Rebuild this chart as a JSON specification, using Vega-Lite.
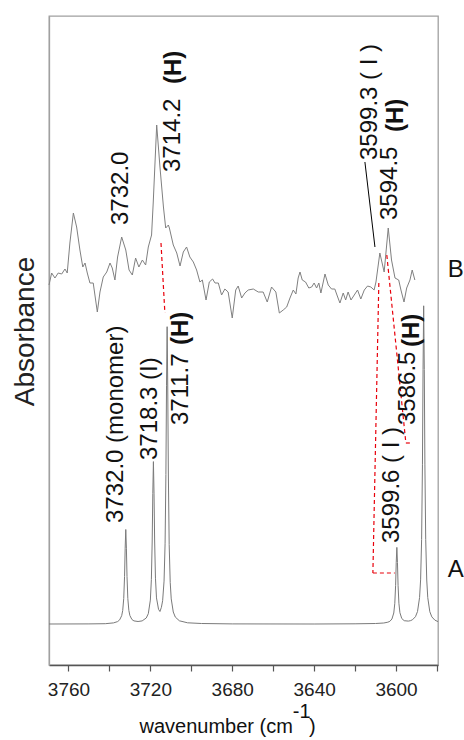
{
  "$schema": "https://vega.github.io/schema/vega-lite/v6.json",
  "width": 389,
  "height": 649,
  "autosize": {"type": "none"},
  "padding": {"left": 49, "top": 16, "right": 26, "bottom": 75},
  "config": {
    "view": {"stroke": "#a0a0a0", "strokeWidth": 1.3},
    "font": "Liberation Sans"
  },
  "datasets": {
    "specA": [
      {"wn": 3769.5, "ab": 41}, {"wn": 3750, "ab": 41.1}, {"wn": 3742, "ab": 41.3}, {"wn": 3738, "ab": 42.1},
      {"wn": 3736, "ab": 43.4}, {"wn": 3735, "ab": 45.1}, {"wn": 3734, "ab": 49.3}, {"wn": 3733.5, "ab": 54.5},
      {"wn": 3733, "ab": 66.4}, {"wn": 3732.6, "ab": 88.5}, {"wn": 3732.3, "ab": 116.7}, {"wn": 3732.0, "ab": 135.5},
      {"wn": 3731.7, "ab": 116.8}, {"wn": 3731.4, "ab": 88.6}, {"wn": 3731, "ab": 66.5}, {"wn": 3730.5, "ab": 54.6},
      {"wn": 3730, "ab": 49.5}, {"wn": 3729, "ab": 45.5}, {"wn": 3728, "ab": 44.1}, {"wn": 3726, "ab": 43.5},
      {"wn": 3724, "ab": 44.1}, {"wn": 3722, "ab": 47.0}, {"wn": 3721, "ab": 51.3}, {"wn": 3720, "ab": 64.9},
      {"wn": 3719.5, "ab": 85.4}, {"wn": 3719.1, "ab": 123}, {"wn": 3718.8, "ab": 171.4}, {"wn": 3718.5, "ab": 203.4},
      {"wn": 3718.2, "ab": 171.8}, {"wn": 3717.9, "ab": 124}, {"wn": 3717.5, "ab": 86.8}, {"wn": 3717, "ab": 67.1},
      {"wn": 3716, "ab": 55.7}, {"wn": 3715.3, "ab": 53.5}, {"wn": 3714.6, "ab": 57.7}, {"wn": 3714, "ab": 64.3},
      {"wn": 3713.3, "ab": 83.9}, {"wn": 3712.8, "ab": 121.2}, {"wn": 3712.4, "ab": 190.5}, {"wn": 3712.1, "ab": 279.2},
      {"wn": 3711.8, "ab": 338.3}, {"wn": 3711.5, "ab": 279}, {"wn": 3711.2, "ab": 190}, {"wn": 3710.8, "ab": 120.4},
      {"wn": 3710.3, "ab": 82.6}, {"wn": 3709.8, "ab": 66.1}, {"wn": 3708.8, "ab": 53}, {"wn": 3707.8, "ab": 47.9},
      {"wn": 3705.8, "ab": 44.2}, {"wn": 3701.8, "ab": 42.2}, {"wn": 3695, "ab": 41.5}, {"wn": 3680, "ab": 41.1},
      {"wn": 3640, "ab": 41}, {"wn": 3620, "ab": 41.2}, {"wn": 3610, "ab": 41.5}, {"wn": 3606, "ab": 42},
      {"wn": 3604, "ab": 42.8}, {"wn": 3603, "ab": 43.7}, {"wn": 3602, "ab": 46}, {"wn": 3601.1, "ab": 52},
      {"wn": 3600.6, "ab": 61.7}, {"wn": 3600.2, "ab": 79.6}, {"wn": 3599.9, "ab": 102.4}, {"wn": 3599.6, "ab": 117.6},
      {"wn": 3599.3, "ab": 102.5}, {"wn": 3599.0, "ab": 79.7}, {"wn": 3598.6, "ab": 61.8}, {"wn": 3598.1, "ab": 52.3},
      {"wn": 3597.2, "ab": 46.5}, {"wn": 3596, "ab": 44.3}, {"wn": 3594, "ab": 43.9}, {"wn": 3593, "ab": 44.3},
      {"wn": 3592, "ab": 45.2}, {"wn": 3590.5, "ab": 48.3}, {"wn": 3589.5, "ab": 53.5}, {"wn": 3588.5, "ab": 67.5},
      {"wn": 3588, "ab": 85.1}, {"wn": 3587.5, "ab": 125.5}, {"wn": 3587.1, "ab": 200.2}, {"wn": 3586.8, "ab": 295.6},
      {"wn": 3586.5, "ab": 359.2}, {"wn": 3586.2, "ab": 295.6}, {"wn": 3585.9, "ab": 200.1}, {"wn": 3585.5, "ab": 125.4},
      {"wn": 3585, "ab": 85}, {"wn": 3584.5, "ab": 67.4}, {"wn": 3583.5, "ab": 53.3}, {"wn": 3582.5, "ab": 48.1},
      {"wn": 3581, "ab": 44.8}, {"wn": 3579.5, "ab": 43.4}
    ],
    "specB": [
      {"wn": 3769.5, "ab": 380}, {"wn": 3768.2, "ab": 392}, {"wn": 3766.6, "ab": 387}, {"wn": 3765.0, "ab": 392},
      {"wn": 3763.3, "ab": 391}, {"wn": 3761.7, "ab": 396}, {"wn": 3760.6, "ab": 392}, {"wn": 3759.3, "ab": 422},
      {"wn": 3757.6, "ab": 452}, {"wn": 3756.0, "ab": 438}, {"wn": 3754.4, "ab": 415}, {"wn": 3753.0, "ab": 398},
      {"wn": 3751.9, "ab": 402}, {"wn": 3750.8, "ab": 392}, {"wn": 3749.5, "ab": 382}, {"wn": 3747.9, "ab": 382},
      {"wn": 3745.9, "ab": 353}, {"wn": 3744.6, "ab": 373}, {"wn": 3743.0, "ab": 388}, {"wn": 3741.3, "ab": 393},
      {"wn": 3739.7, "ab": 402}, {"wn": 3738.6, "ab": 397}, {"wn": 3737.3, "ab": 385}, {"wn": 3736.0, "ab": 408},
      {"wn": 3734.0, "ab": 428}, {"wn": 3732.0, "ab": 415}, {"wn": 3730.4, "ab": 395}, {"wn": 3728.8, "ab": 390},
      {"wn": 3727.2, "ab": 407}, {"wn": 3725.6, "ab": 398}, {"wn": 3723.9, "ab": 405}, {"wn": 3722.3, "ab": 400},
      {"wn": 3721.0, "ab": 418}, {"wn": 3719.4, "ab": 430}, {"wn": 3718.6, "ab": 462}, {"wn": 3716.9, "ab": 540},
      {"wn": 3715.3, "ab": 498}, {"wn": 3713.6, "ab": 458}, {"wn": 3712.5, "ab": 437}, {"wn": 3711.2, "ab": 440},
      {"wn": 3710.7, "ab": 437}, {"wn": 3708.8, "ab": 420}, {"wn": 3707.1, "ab": 412}, {"wn": 3705.5, "ab": 399},
      {"wn": 3703.9, "ab": 413}, {"wn": 3702.3, "ab": 418}, {"wn": 3700.7, "ab": 408}, {"wn": 3699.0, "ab": 403},
      {"wn": 3697.4, "ab": 395}, {"wn": 3695.8, "ab": 383}, {"wn": 3694.6, "ab": 385}, {"wn": 3692.8, "ab": 365},
      {"wn": 3691.2, "ab": 383}, {"wn": 3689.6, "ab": 386}, {"wn": 3688.4, "ab": 382}, {"wn": 3686.8, "ab": 382},
      {"wn": 3685.2, "ab": 370}, {"wn": 3683.6, "ab": 376}, {"wn": 3682.0, "ab": 373}, {"wn": 3680.0, "ab": 347},
      {"wn": 3678.3, "ab": 375}, {"wn": 3677.1, "ab": 379}, {"wn": 3675.4, "ab": 367}, {"wn": 3673.8, "ab": 372},
      {"wn": 3672.2, "ab": 375}, {"wn": 3669.7, "ab": 376}, {"wn": 3667.3, "ab": 373}, {"wn": 3664.9, "ab": 373},
      {"wn": 3662.9, "ab": 363}, {"wn": 3660.8, "ab": 378}, {"wn": 3658.7, "ab": 373}, {"wn": 3657.0, "ab": 352},
      {"wn": 3655.1, "ab": 355}, {"wn": 3653.4, "ab": 358}, {"wn": 3651.8, "ab": 367}, {"wn": 3650.2, "ab": 375},
      {"wn": 3648.9, "ab": 371}, {"wn": 3647.8, "ab": 387}, {"wn": 3646.9, "ab": 393}, {"wn": 3645.8, "ab": 385},
      {"wn": 3644.2, "ab": 383}, {"wn": 3642.6, "ab": 377}, {"wn": 3641.2, "ab": 378}, {"wn": 3640.0, "ab": 382},
      {"wn": 3638.8, "ab": 377}, {"wn": 3637.7, "ab": 382}, {"wn": 3636.7, "ab": 372}, {"wn": 3634.7, "ab": 391},
      {"wn": 3633.1, "ab": 380}, {"wn": 3631.5, "ab": 376}, {"wn": 3629.9, "ab": 376}, {"wn": 3628.5, "ab": 368},
      {"wn": 3627.4, "ab": 362}, {"wn": 3625.8, "ab": 372}, {"wn": 3624.6, "ab": 365}, {"wn": 3623.4, "ab": 373},
      {"wn": 3622.0, "ab": 365}, {"wn": 3620.4, "ab": 370}, {"wn": 3618.8, "ab": 375}, {"wn": 3617.2, "ab": 366},
      {"wn": 3615.5, "ab": 375}, {"wn": 3613.9, "ab": 379}, {"wn": 3612.3, "ab": 378}, {"wn": 3610.7, "ab": 375},
      {"wn": 3609.8, "ab": 383}, {"wn": 3607.9, "ab": 412}, {"wn": 3605.8, "ab": 393}, {"wn": 3603.8, "ab": 437},
      {"wn": 3602.2, "ab": 405}, {"wn": 3600.5, "ab": 387}, {"wn": 3598.7, "ab": 385}, {"wn": 3597.6, "ab": 375},
      {"wn": 3596.1, "ab": 363}, {"wn": 3594.8, "ab": 377}, {"wn": 3593.2, "ab": 385}, {"wn": 3592.1, "ab": 395},
      {"wn": 3590.8, "ab": 385}
    ],
    "redSeg": [
      {"wn": 3714.8, "ab": 422, "wn2": 3712.9, "ab2": 352},
      {"wn": 3608.4, "ab": 382, "wn2": 3611.3, "ab2": 92},
      {"wn": 3611.3, "ab": 92, "wn2": 3600.6, "ab2": 92},
      {"wn": 3604.5, "ab": 410, "wn2": 3595.2, "ab2": 222},
      {"wn": 3595.2, "ab": 222, "wn2": 3591.8, "ab2": 222}
    ],
    "leader": [
      {"wn": 3615.2, "ab": 503, "wn2": 3610.3, "ab2": 418}
    ],
    "labels": [
      {"wn": 3734.3, "ab": 440, "t": "3732.0", "w": "n"},
      {"wn": 3709.0, "ab": 493, "t": "3714.2", "w": "n"},
      {"wn": 3612.8, "ab": 505, "t": "3599.3 ( I )", "w": "n"},
      {"wn": 3603.0, "ab": 445, "t": "3594.5", "w": "n"},
      {"wn": 3736.8, "ab": 142, "t": "3732.0 (monomer)", "w": "n"},
      {"wn": 3720.2, "ab": 205, "t": "3718.3 (I)", "w": "n"},
      {"wn": 3705.0, "ab": 240, "t": "3711.7", "w": "n"},
      {"wn": 3601.8, "ab": 122, "t": "3599.6 ( I )", "w": "n"},
      {"wn": 3594.2, "ab": 240, "t": "3586.5", "w": "n"},
      {"wn": 3708.5, "ab": 581, "t": "(H)", "w": "b"},
      {"wn": 3600.1, "ab": 533, "t": "(H)", "w": "b"},
      {"wn": 3705.0, "ab": 320, "t": "(H)", "w": "b"},
      {"wn": 3592.3, "ab": 318, "t": "(H)", "w": "b"}
    ],
    "sideLabels": [
      {"wn": 3574.7, "ab": 388, "t": "B"},
      {"wn": 3574.7, "ab": 88, "t": "A"}
    ],
    "xTitle": [
      {"wn": 3650.4, "ab": -68, "t": "wavenumber (cm", "part": "main"},
      {"wn": 3650.4, "ab": -53, "t": "-1", "part": "sup"},
      {"wn": 3642.5, "ab": -68, "t": ")", "part": "close"}
    ]
  },
  "layer": [
    {
      "data": {"name": "specA"},
      "mark": {"type": "line", "color": "#7a7a7a", "strokeWidth": 1},
      "encoding": {
        "x": {
          "field": "wn", "type": "quantitative",
          "scale": {"domain": [3579.5, 3769.5], "reverse": true, "nice": false, "zero": false},
          "axis": {
            "values": [3760, 3740, 3720, 3700, 3680, 3660, 3640, 3620, 3600, 3580],
            "format": "d",
            "labelExpr": "datum.value % 40 == 0 ? datum.label : ''",
            "title": null, "grid": false,
            "domainColor": "#555", "domainWidth": 1.5,
            "tickColor": "#555", "tickSize": 6, "tickWidth": 1.2,
            "labelFontSize": 19, "labelColor": "#222", "labelPadding": 9,
            "labelFont": "Liberation Sans"
          }
        },
        "y": {
          "field": "ab", "type": "quantitative",
          "scale": {"domain": [0, 649], "nice": false, "zero": false},
          "axis": {
            "title": "Absorbance", "labels": false, "ticks": false, "grid": false,
            "domainColor": "#a0a0a0", "domainWidth": 1.3,
            "titleFontSize": 28, "titleFontWeight": "normal", "titleColor": "#222",
            "titleFont": "Liberation Sans",
            "titleAngle": 270, "titleX": -24, "titleY": 315, "titleBaseline": "middle", "titleAlign": "center"
          }
        }
      }
    },
    {
      "data": {"name": "specB"},
      "mark": {"type": "line", "color": "#808080", "strokeWidth": 1},
      "encoding": {
        "x": {"field": "wn", "type": "quantitative"},
        "y": {"field": "ab", "type": "quantitative"}
      }
    },
    {
      "data": {"name": "redSeg"},
      "mark": {"type": "rule", "color": "#e8000b", "strokeWidth": 1.2, "strokeDash": [4, 3]},
      "encoding": {
        "x": {"field": "wn", "type": "quantitative"},
        "y": {"field": "ab", "type": "quantitative"},
        "x2": {"field": "wn2"},
        "y2": {"field": "ab2"}
      }
    },
    {
      "data": {"name": "leader"},
      "mark": {"type": "rule", "color": "#000", "strokeWidth": 1},
      "encoding": {
        "x": {"field": "wn", "type": "quantitative"},
        "y": {"field": "ab", "type": "quantitative"},
        "x2": {"field": "wn2"},
        "y2": {"field": "ab2"}
      }
    },
    {
      "data": {"name": "labels"},
      "transform": [{"filter": "datum.w == 'n'"}],
      "mark": {"type": "text", "angle": 270, "align": "left", "baseline": "middle", "fontSize": 24, "font": "Liberation Sans", "color": "#111"},
      "encoding": {
        "x": {"field": "wn", "type": "quantitative"},
        "y": {"field": "ab", "type": "quantitative"},
        "text": {"field": "t"}
      }
    },
    {
      "data": {"name": "labels"},
      "transform": [{"filter": "datum.w == 'b'"}],
      "mark": {"type": "text", "angle": 270, "align": "left", "baseline": "middle", "fontSize": 24, "fontWeight": "bold", "font": "Liberation Sans", "color": "#111"},
      "encoding": {
        "x": {"field": "wn", "type": "quantitative"},
        "y": {"field": "ab", "type": "quantitative"},
        "text": {"field": "t"}
      }
    },
    {
      "data": {"name": "sideLabels"},
      "mark": {"type": "text", "align": "left", "baseline": "alphabetic", "fontSize": 24, "font": "Liberation Sans", "color": "#111"},
      "encoding": {
        "x": {"field": "wn", "type": "quantitative"},
        "y": {"field": "ab", "type": "quantitative"},
        "text": {"field": "t"}
      }
    },
    {
      "data": {"name": "xTitle"},
      "transform": [{"filter": "datum.part == 'main'"}],
      "mark": {"type": "text", "align": "right", "baseline": "alphabetic", "fontSize": 20, "font": "Liberation Sans", "color": "#111"},
      "encoding": {
        "x": {"field": "wn", "type": "quantitative"},
        "y": {"field": "ab", "type": "quantitative"},
        "text": {"field": "t"}
      }
    },
    {
      "data": {"name": "xTitle"},
      "transform": [{"filter": "datum.part != 'main'"}],
      "mark": {"type": "text", "align": "left", "baseline": "alphabetic", "fontSize": 20, "font": "Liberation Sans", "color": "#111"},
      "encoding": {
        "x": {"field": "wn", "type": "quantitative"},
        "y": {"field": "ab", "type": "quantitative"},
        "text": {"field": "t"}
      }
    }
  ]
}
